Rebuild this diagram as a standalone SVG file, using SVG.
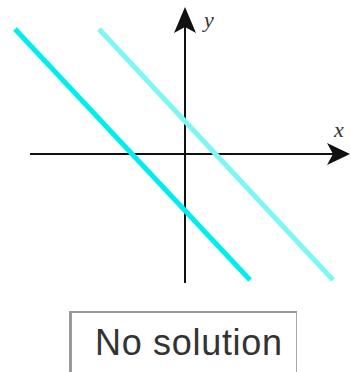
<svg xmlns="http://www.w3.org/2000/svg" width="351" height="372" viewBox="0 0 351 372">
<style>
.axis{stroke:#111;stroke-width:2;fill:none}
.head{fill:#111}
.lbl{font-family:"Liberation Serif",serif;font-style:italic;font-size:22px;fill:#333}
.ln{stroke-width:5;stroke-linecap:butt;fill:none}
</style>
<rect width="351" height="372" fill="#fff"/>
<g id="connectors">
<line class="axis" x1="30" y1="154" x2="335" y2="154"/>
<path class="head" d="M350,154 L327,143 L333,154 L327,165 Z"/>
<line class="axis" x1="185" y1="283" x2="185" y2="22"/>
<path class="head" d="M185,7 L174,33 L185,27 L196,33 Z"/>
<line class="ln" stroke="#00eeee" x1="15" y1="29" x2="250" y2="280"/>
<line class="ln" stroke="#7ff6f6" x1="99" y1="29" x2="333" y2="280"/>
</g>
<g id="labels">
<text class="lbl" x="204" y="27">y</text>
<text class="lbl" x="334" y="137">x</text>
</g>
<g id="box">
<rect x="70.5" y="311.5" width="226" height="62" fill="#fff" stroke="#aaa" stroke-width="1"/>
<line x1="70.5" y1="311" x2="70.5" y2="372" stroke="#999" stroke-width="3"/>
<line x1="69" y1="312" x2="297" y2="312" stroke="#999" stroke-width="2"/>
<text x="95" y="355" font-family="Liberation Sans, Arial, sans-serif" font-size="36" fill="#333" textLength="187">No solution</text>
</g>
</svg>
